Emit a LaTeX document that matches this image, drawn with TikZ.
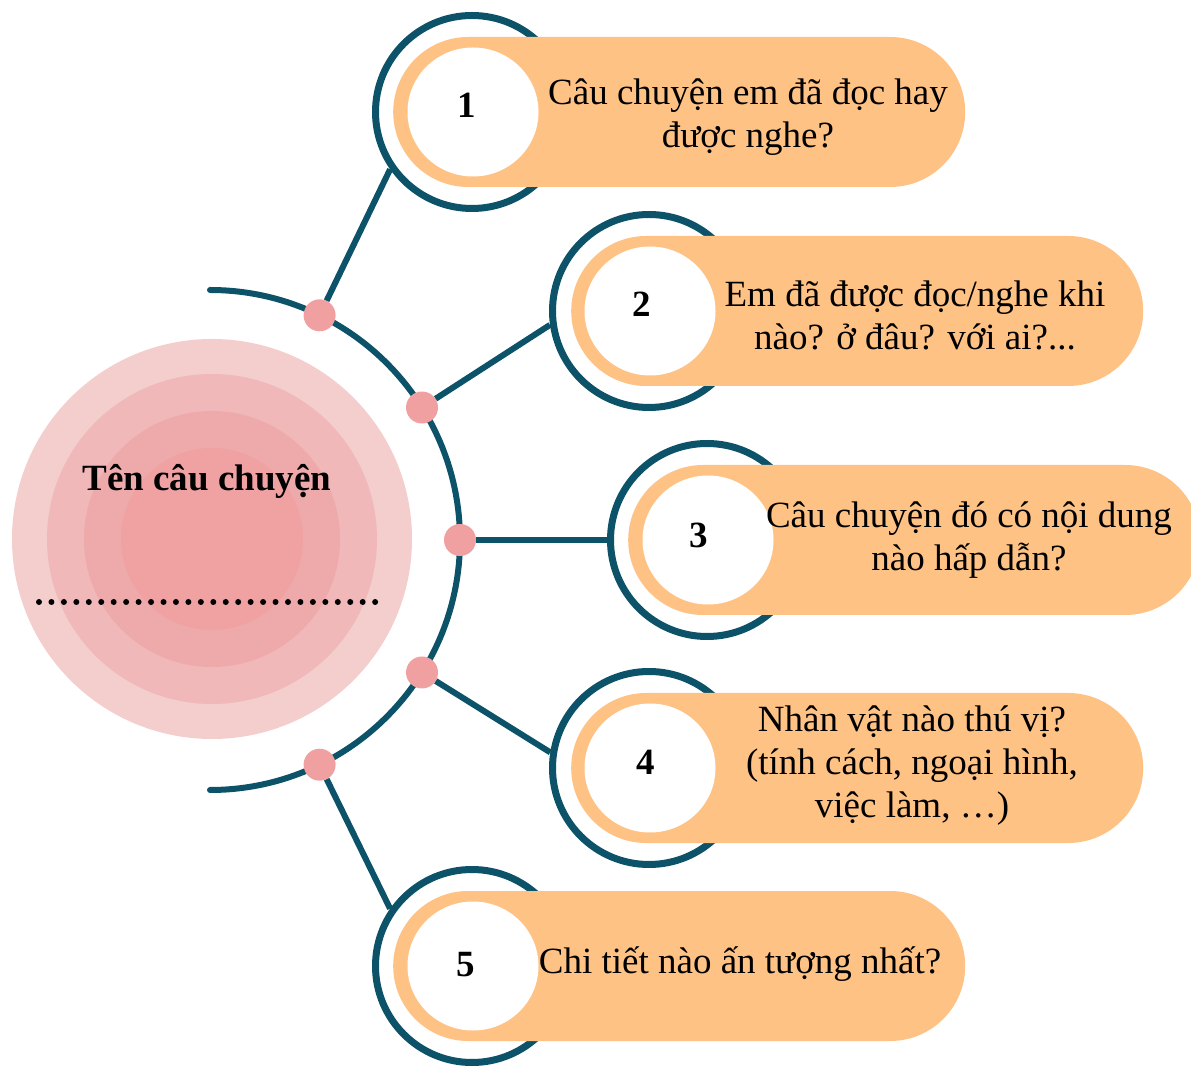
\documentclass[tikz,border=0pt]{standalone}
\usepackage{fontspec}
\setmainfont{Liberation Serif}
\usetikzlibrary{shapes.geometric}
\definecolor{tealdark}{RGB}{12,82,104}
\definecolor{pillorange}{RGB}{255,194,133}
\definecolor{dotpink}{RGB}{240,160,160}
\definecolor{pkA}{RGB}{244,205,205}
\definecolor{pkB}{RGB}{240,184,184}
\definecolor{pkC}{RGB}{238,170,170}
\definecolor{pkD}{RGB}{240,161,162}
\begin{document}
\begin{tikzpicture}[x=1pt,y=1pt,
  ringc/.style={circle, draw=tealdark, line width=7pt, fill=white, minimum size=193pt, inner sep=0pt},
  pill/.style={rectangle, rounded corners=75pt, fill=pillorange, minimum width=572pt, minimum height=150pt, inner sep=0pt, anchor=west},
  whitec/.style={ellipse, fill=white, minimum width=131pt, minimum height=129pt, inner sep=0pt},
  numtxt/.style={font=\bfseries\fontsize{37}{43}\selectfont, inner sep=0pt},
  qtxt/.style={font=\fontsize{37}{43}\selectfont, align=center, inner sep=0pt},
  pinkdot/.style={circle, fill=dotpink, minimum size=32pt, inner sep=0pt},
  link/.style={draw=tealdark, line width=6pt}]
\useasboundingbox (0,0) rectangle (1191,1066);

% central concentric circles
\node[circle, fill=pkA, minimum size=400pt, inner sep=0pt] (cA) at (212,527) {};
\node[circle, fill=pkB, minimum size=330pt, inner sep=0pt] (cB) at (212,527) {};
\node[circle, fill=pkC, minimum size=256pt, inner sep=0pt] (cC) at (212,527) {};
\node[circle, fill=pkD, minimum size=182pt, inner sep=0pt] (cD) at (212,527) {};
\node[font=\bfseries\fontsize{37}{43}\selectfont, inner sep=0pt] (title) at (207,585) {Tên câu chuyện};
\draw[line width=6pt, line cap=round, dash pattern=on 0pt off 12.45pt] (39,464) -- (376,464);

% arc
\coordinate (A) at (210,526);
\draw[tealdark, line width=6pt, line cap=round] (210,776) arc[start angle=90, end angle=-90, radius=250];

% rings
\node[ringc] (r1) at (472,954) {};
\node[ringc] (r2) at (649,755) {};
\node[ringc] (r3) at (707,526) {};
\node[ringc] (r4) at (649,298) {};
\node[ringc] (r5) at (472,100) {};

% pills
\node[pill] (p1) at (393,954) {};
\node[pill] (p2) at (571,755) {};
\node[pill] (p3) at (628,526) {};
\node[pill] (p4) at (571,298) {};
\node[pill] (p5) at (393,100) {};

% white circles
\node[whitec] (w1) at (473,954) {};
\node[whitec] (w2) at (650,755) {};
\node[whitec] (w3) at (708,526) {};
\node[whitec] (w4) at (650,298) {};
\node[whitec] (w5) at (473,100) {};

% numbers
\node[numtxt] (n1) at (467,961) {1};
\node[numtxt] (n2) at (642,762) {2};
\node[numtxt] (n3) at (699,531) {3};
\node[numtxt] (n4) at (646,304) {4};
\node[numtxt] (n5) at (466,101) {5};

% question texts
\node[qtxt] (t1) at (748,949) {Câu chuyện em đã đọc hay\\được nghe?};
\node[qtxt] (t2) at (915,751) {Em đã được đọc/nghe khi\\nào? ở đâu? với ai?...};
\node[qtxt] (t3) at (969,526) {Câu chuyện đó có nội dung\\nào hấp dẫn?};
\node[qtxt] (t4) at (912,300) {Nhân vật nào thú vị?\\(tính cách, ngoại hình,\\việc làm, …)};
\node[qtxt] (t5) at (740,102) {Chi tiết nào ấn tượng nhất?};

% dots on arc
\node[pinkdot] (d1) at ([shift={(210,526)}]64:250) {};
\node[pinkdot] (d2) at ([shift={(210,526)}]32:250) {};
\node[pinkdot] (d3) at ([shift={(210,526)}]0:250) {};
\node[pinkdot] (d4) at ([shift={(210,526)}]-32:250) {};
\node[pinkdot] (d5) at ([shift={(210,526)}]-64:250) {};

% connectors
\draw[link] (d1) -- (r1.215);
\draw[link] (d2) -- (r2.188.5);
\draw[link] (d3) -- (r3.180);
\draw[link] (d4) -- (r4.171.5);
\draw[link] (d5) -- (r5.145);
\end{tikzpicture}
\end{document}
